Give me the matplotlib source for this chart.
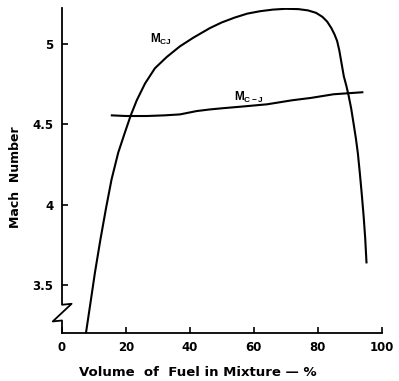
import matplotlib
matplotlib.use("Agg")
import matplotlib.pyplot as plt
import matplotlib.transforms as mtransforms

plt.rcParams['font.family'] = ['DejaVu Sans']
plt.rcParams['font.weight'] = 'bold'
plt.rcParams['mathtext.fontset'] = 'custom'
plt.rcParams['mathtext.rm'] = 'Liberation Sans:bold'
plt.rcParams['mathtext.it'] = 'Liberation Sans:bold'
plt.rcParams['mathtext.bf'] = 'Liberation Sans:bold'

# Chapman-Jouguet Mach number vs fuel volume
mcj_fuel = [7.5, 9.0, 10.3, 12.0, 13.8, 15.5, 17.6, 19.7, 21.5, 23.4, 26.0,
            29.1, 32.8, 36.9, 41.1, 46.3, 50.0, 54.0, 58.0, 62.0, 66.0, 70.0,
            74.0, 77.0, 79.5, 81.5, 83.0, 84.3, 85.3, 86.1, 86.8, 87.5, 88.2,
            89.0, 89.7, 90.5, 91.3, 92.0, 92.6, 93.2, 93.8, 94.4, 94.9, 95.3]
mcj_mach = [3.20, 3.40, 3.575, 3.78, 3.98, 4.156, 4.324, 4.45, 4.555, 4.65, 4.755,
            4.85, 4.92, 4.986, 5.04, 5.10, 5.135, 5.165, 5.19, 5.205, 5.215, 5.22,
            5.218, 5.21, 5.195, 5.17, 5.14, 5.10, 5.06, 5.02, 4.96, 4.88, 4.80,
            4.74, 4.68, 4.60, 4.50, 4.41, 4.32, 4.20, 4.07, 3.93, 3.79, 3.64]

# second curve
mci_fuel = [15.6, 20.0, 26.5, 32.0, 36.9, 42.2, 46.3, 50.0, 57.0, 64.2, 72.0,
            78.0, 85.0, 94.0]
mci_mach = [4.556, 4.552, 4.552, 4.556, 4.562, 4.583, 4.593, 4.600, 4.612, 4.625,
            4.650, 4.665, 4.6875, 4.700]

xticks = [0, 20, 40, 60, 80, 100]
yticks = [3.5, 4, 4.5, 5]
ytick_labels = ['3.5', '4', '4.5', '5']

fig = plt.figure(figsize=(3.99, 3.81), dpi=100)
ax = fig.add_axes([62 / 399, 48 / 381, 319.5 / 399, 325 / 381])

ax.plot(mcj_fuel, mcj_mach, color='black', linewidth=1.5)
ax.plot(mci_fuel, mci_mach, color='black', linewidth=1.5)

ax.text(27.5, 5.03, r'$M_{CJ}$', fontsize=8.5, ha='left', va='center')
ax.text(53.8, 4.665, r'$M_{C-J}$', fontsize=8.5, ha='left', va='center')

ax.set_xlim(0, 100)
ax.set_ylim(3.2, 5.225)
ax.set_xticks(xticks)
ax.set_xticklabels([str(t) for t in xticks])
ax.set_yticks(yticks)
ax.set_yticklabels(ytick_labels)
ax.tick_params(axis='both', direction='in', length=4, width=1.2,
               labelsize=8.5, pad=6)

for side in ['top', 'right', 'left']:
    ax.spines[side].set_visible(False)
ax.spines['bottom'].set_linewidth(1.3)

# left axis with the break mark
trans = mtransforms.blended_transform_factory(ax.transAxes, ax.transData)
ax.plot([0, 0, 0.030, -0.029, 0, 0],
        [5.225, 3.376, 3.382, 3.272, 3.278, 3.2],
        color='black', linewidth=1.3, transform=trans, clip_on=False)

fig.text(198 / 399, 1 - 373 / 381, 'Volume  of  Fuel in Mixture — %',
         ha='center', va='center', fontsize=9.5)
fig.text(16 / 399, 1 - 177 / 381, 'Mach  Number', rotation=90,
         ha='center', va='center', fontsize=9)

fig.savefig('out.png', dpi=100)
